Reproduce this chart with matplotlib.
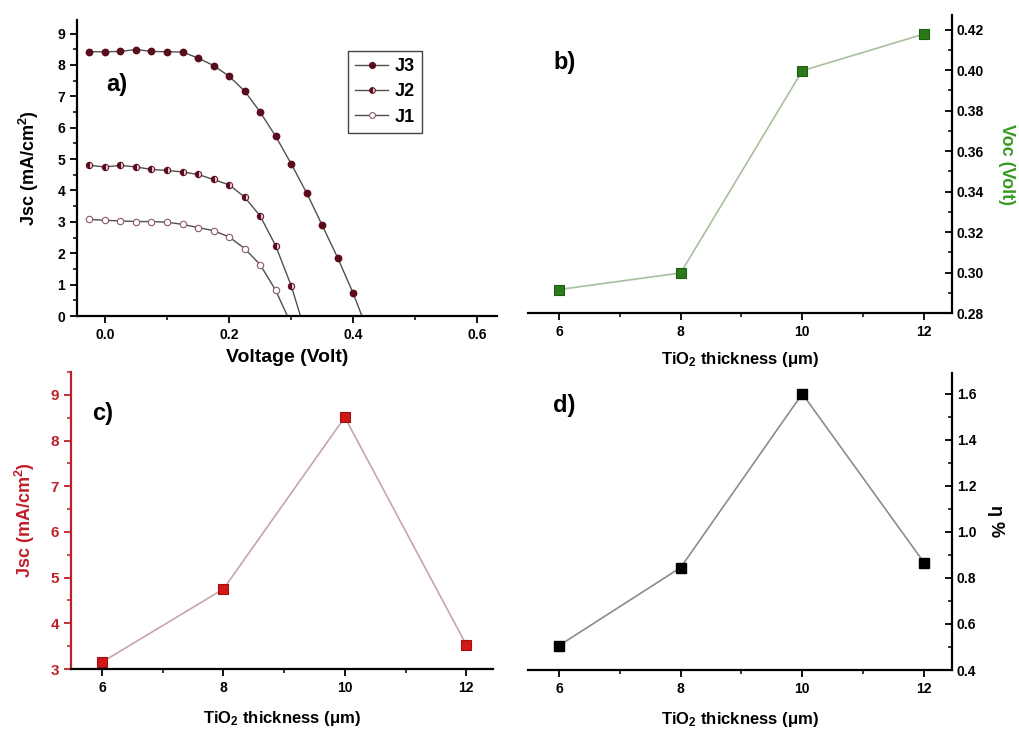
import numpy as np
import matplotlib.pyplot as plt
from matplotlib.ticker import MultipleLocator

plt.rcParams['font.family'] = ['Liberation Sans', 'DejaVu Sans']
plt.rcParams['font.weight'] = 'bold'
plt.rcParams['axes.labelweight'] = 'bold'
plt.rcParams['mathtext.fontset'] = 'custom'
plt.rcParams['mathtext.rm'] = 'Liberation Sans:bold'
plt.rcParams['mathtext.it'] = 'Liberation Sans:bold'
plt.rcParams['mathtext.bf'] = 'Liberation Sans:bold'
plt.rcParams['mathtext.default'] = 'rm'

# --- panel a: J-V curves (last point of each curve is the Voc intercept, no marker) ---
v3 = [-0.025, 0.0, 0.025, 0.05, 0.075, 0.1, 0.125, 0.15, 0.175, 0.2, 0.225, 0.25,
      0.275, 0.3, 0.325, 0.35, 0.375, 0.4, 0.414]
j3 = [8.42, 8.42, 8.43, 8.49, 8.43, 8.42, 8.41, 8.22, 7.98, 7.64, 7.17, 6.50,
      5.73, 4.85, 3.92, 2.89, 1.85, 0.72, 0.0]
v2 = [-0.025, 0.0, 0.025, 0.05, 0.075, 0.1, 0.125, 0.15, 0.175, 0.2, 0.225, 0.25,
      0.275, 0.3, 0.315]
j2 = [4.80, 4.75, 4.80, 4.75, 4.67, 4.64, 4.59, 4.51, 4.35, 4.18, 3.79, 3.19,
      2.24, 0.97, 0.0]
v1 = [-0.025, 0.0, 0.025, 0.05, 0.075, 0.1, 0.125, 0.15, 0.175, 0.2, 0.225, 0.25,
      0.275, 0.294]
j1 = [3.08, 3.05, 3.03, 3.01, 3.01, 2.99, 2.92, 2.82, 2.72, 2.52, 2.15, 1.64,
      0.82, 0.0]

# --- panels b, c, d: vs TiO2 thickness ---
thickness = [6, 8, 10, 12]
voc = [0.2916, 0.2998, 0.3997, 0.4178]
jsc = [3.15, 4.75, 8.51, 3.53]
eta = [0.506, 0.845, 1.60, 0.867]

maroon = '#5a0c1c'
line_gray = '#505050'
tick_fs = 10
ms_a = 4.6
ms_sq = 7.5

fig = plt.figure(figsize=(10.2, 7.29), dpi=100)

ax_a = fig.add_axes([0.0755, 0.5665, 0.412, 0.406])
ax_b = fig.add_axes([0.5176, 0.5706, 0.4157, 0.4088])
ax_c = fig.add_axes([0.0696, 0.0823, 0.4137, 0.4074])
ax_d = fig.add_axes([0.5176, 0.0809, 0.4157, 0.4074])

# panel a
ax_a.plot(v3, j3, color=line_gray, lw=1.0, marker='o', ms=ms_a, mfc=maroon, mec=maroon,
          markevery=list(range(len(v3) - 1)), label='J3')
ax_a.plot(v2, j2, color=line_gray, lw=1.0, marker='o', ms=ms_a, fillstyle='left',
          mfc=maroon, mfcalt='#e6c8cf', mec=maroon, mew=0.7,
          markevery=list(range(len(v2) - 1)), label='J2')
ax_a.plot(v1, j1, color=line_gray, lw=1.0, marker='o', ms=ms_a, mfc='white', mec='#8c5a64',
          mew=0.8, markevery=list(range(len(v1) - 1)), label='J1')
ax_a.set_xlim(-0.045, 0.632)
ax_a.set_ylim(0, 9.43)
ax_a.xaxis.set_major_locator(MultipleLocator(0.2))
ax_a.xaxis.set_minor_locator(MultipleLocator(0.1))
ax_a.yaxis.set_major_locator(MultipleLocator(1))
ax_a.yaxis.set_minor_locator(MultipleLocator(0.5))
ax_a.set_xticks([0.0, 0.2, 0.4, 0.6], ['0.0', '0.2', '0.4', '0.6'])
ax_a.set_ylabel('Jsc (mA/cm$^2$)', fontsize=13, labelpad=12)
ax_a.set_xlabel('Voltage (Volt)', fontsize=14, labelpad=5)
ax_a.text(0.07, 0.76, 'a)', transform=ax_a.transAxes, fontsize=17, fontweight='bold')
leg = ax_a.legend(loc='upper left', bbox_to_anchor=(0.645, 0.895), borderaxespad=0,
                  fontsize=13, markerscale=0.9, handlelength=1.8, handletextpad=0.4,
                  borderpad=0.4, labelspacing=0.45,
                  fancybox=False, edgecolor='#444444', framealpha=1)
leg.get_frame().set_linewidth(1.0)
for t in leg.get_texts():
    t.set_fontweight('bold')

# panel b
ax_b.plot(thickness, voc, color='#a8c0a0', lw=1.2, marker='s', ms=ms_sq,
          mfc='#2a7a1a', mec='#1f5c12', mew=0.8)
ax_b.set_xlim(5.49, 12.46)
ax_b.set_ylim(0.28, 0.4272)
ax_b.yaxis.set_major_locator(MultipleLocator(0.02))
ax_b.yaxis.set_minor_locator(MultipleLocator(0.01))
ax_b.xaxis.set_major_locator(MultipleLocator(2))
ax_b.xaxis.set_minor_locator(MultipleLocator(1))
ax_b.yaxis.tick_right()
ax_b.yaxis.set_label_position('right')
ax_b.set_ylabel('Voc (Volt)', color='#3a9a22', fontsize=13, rotation=270, labelpad=22)
ax_b.set_xlabel('TiO$_2$ thickness (μm)', fontsize=12, labelpad=8)
ax_b.text(0.06, 0.82, 'b)', transform=ax_b.transAxes, fontsize=17, fontweight='bold')

# panel c
red = '#c0202a'
ax_c.plot(thickness, jsc, color='#c8a4a8', lw=1.2, marker='s', ms=ms_sq,
          mfc='#d01818', mec='#a01010', mew=0.8)
ax_c.set_xlim(5.49, 12.44)
ax_c.set_ylim(3, 9.5)
ax_c.yaxis.set_major_locator(MultipleLocator(1))
ax_c.yaxis.set_minor_locator(MultipleLocator(0.5))
ax_c.xaxis.set_major_locator(MultipleLocator(2))
ax_c.xaxis.set_minor_locator(MultipleLocator(1))
ax_c.set_ylabel('Jsc (mA/cm$^2$)', color=red, fontsize=13, labelpad=10)
ax_c.set_xlabel('TiO$_2$ thickness (μm)', fontsize=12, labelpad=10)
ax_c.spines['left'].set_color(red)
ax_c.tick_params(axis='y', which='both', colors=red)
ax_c.text(0.05, 0.84, 'c)', transform=ax_c.transAxes, fontsize=17, fontweight='bold')

# panel d
ax_d.plot(thickness, eta, color='#8c8c8c', lw=1.2, marker='s', ms=ms_sq,
          mfc='black', mec='black')
ax_d.set_xlim(5.49, 12.46)
ax_d.set_ylim(0.4, 1.69)
ax_d.yaxis.set_major_locator(MultipleLocator(0.2))
ax_d.yaxis.set_minor_locator(MultipleLocator(0.1))
ax_d.xaxis.set_major_locator(MultipleLocator(2))
ax_d.xaxis.set_minor_locator(MultipleLocator(1))
ax_d.yaxis.tick_right()
ax_d.yaxis.set_label_position('right')
ax_d.set_ylabel('η %', fontsize=13, rotation=270, labelpad=20)
ax_d.set_xlabel('TiO$_2$ thickness (μm)', fontsize=12, labelpad=10)
ax_d.text(0.06, 0.87, 'd)', transform=ax_d.transAxes, fontsize=17, fontweight='bold')

for ax in (ax_a, ax_c):
    ax.spines['top'].set_visible(False)
    ax.spines['right'].set_visible(False)
for ax in (ax_b, ax_d):
    ax.spines['top'].set_visible(False)
    ax.spines['left'].set_visible(False)
    ax.tick_params(axis='y', which='both', direction='in')

for ax in (ax_a, ax_b, ax_c, ax_d):
    for s in ax.spines.values():
        s.set_linewidth(1.6)
    ax.tick_params(which='major', length=5, width=1.3, labelsize=tick_fs)
    ax.tick_params(which='minor', length=3, width=1.1)
    for lab in ax.get_xticklabels() + ax.get_yticklabels():
        lab.set_fontweight('bold')
ax_c.tick_params(axis='y', labelsize=11)

fig.savefig('out.png', dpi=100)
